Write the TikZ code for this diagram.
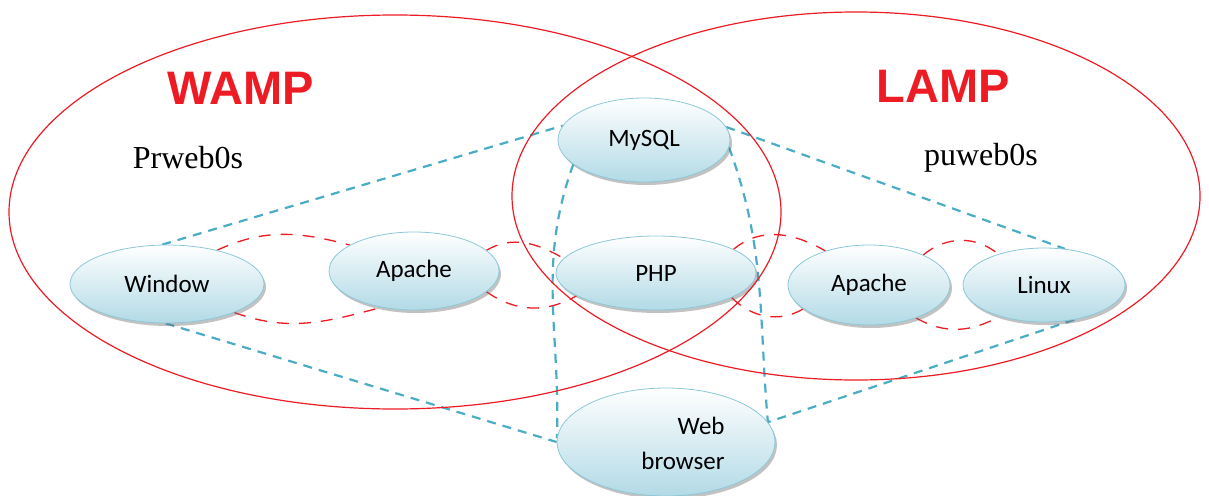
\documentclass[tikz,border=0pt]{standalone}
\usepackage{fontspec}
\newfontfamily\calib{Carlito}
\newfontfamily\arialb{Liberation Sans}
\newfontfamily\tnroman{Liberation Serif}
\usetikzlibrary{shapes.geometric,shadows,backgrounds}
\definecolor{lampred}{RGB}{237,28,36}
\definecolor{linkblue}{RGB}{75,172,198}
\definecolor{nodebot}{RGB}{178,218,230}
\definecolor{nodeedge}{RGB}{140,200,216}
\tikzset{
  comp/.style={ellipse, inner sep=0pt, draw=nodeedge, line width=0.8pt,
    top color=white, bottom color=nodebot,
    drop shadow={shadow xshift=2pt, shadow yshift=-3pt, fill=black!60, opacity=0.4},
    font=\calib\fontsize{25}{29}\selectfont},
  bigset/.style={draw=lampred, line width=1.2pt},
  title/.style={text=lampred, font=\arialb\bfseries\fontsize{47}{52}\selectfont},
  host/.style={font=\tnroman\fontsize{32}{36}\selectfont},
  bluelink/.style={draw=linkblue, line width=2.2pt, dash pattern=on 9pt off 7pt},
  redlink/.style={draw=lampred, line width=1.3pt, dash pattern=on 12pt off 10pt},
}
\begin{document}
\begin{tikzpicture}[x=1pt,y=-1pt]
\useasboundingbox (0,0) rectangle (1209,495);
% component nodes
\node[comp, minimum width=194pt, minimum height=78pt] (win) at (167,284) {Window};
\node[comp, minimum width=170pt, minimum height=78pt] (apL) at (414,271) {Apache};
\node[comp, minimum width=172pt, minimum height=84pt] (sql) at (644,140) {MySQL};
\node[comp, minimum width=200pt, minimum height=74pt] (php) at (656,273) {PHP};
\node[comp, minimum width=162pt, minimum height=80pt] (apR) at (869,285) {Apache};
\node[comp, minimum width=162pt, minimum height=74pt] (lin) at (1044,285) {Linux};
\node[comp, minimum width=218pt, minimum height=108pt] (web) at (666,442) {};
\node[align=right, font=\calib\fontsize{25}{35}\selectfont] (webtxt) at (683,443) {Web\\browser};
% titles
\node[title] (wamp) at (241,88) {WAMP};
\node[title] (lamp) at (943,86) {LAMP};
\node[host] (prw) at (188,158) {Prweb0s};
\node[host] (puw) at (981,158) {puweb0s};
% connectors
\begin{pgfonlayer}{background}
\draw[bluelink] (win.97) -- (sql.170);
\draw[bluelink] (win.268) -- (web.180);
\draw[bluelink] (sql.9) -- (lin.60);
\draw[bluelink] (lin.-49) -- (web.11);
\draw[bluelink] (sql.199) to[out=250,in=88] (web.178);
\draw[bluelink] (sql.-5) to[out=-70,in=95] (web.11);
\draw[redlink] (win.34) to[out=25,in=165] (apL.158);
\draw[redlink] (win.-23) to[out=-20,in=-165] (apL.228);
\draw[redlink] (apL.16) to[out=30,in=150] (php.171);
\draw[redlink] (apL.-16) to[out=-35,in=-150] (php.196);
\draw[redlink] (php.17) to[out=40,in=150] (apR.142);
\draw[redlink] (php.-18) to[out=-45,in=-150] (apR.200);
\draw[redlink] (apR.29) to[out=40,in=140] (lin.146);
\draw[redlink] (apR.-35) to[out=-30,in=-150] (lin.215);
\end{pgfonlayer}
% the two sets
\draw[bigset] (395,212) ellipse [x radius=386pt, y radius=197pt];
\draw[bigset] (856,196) ellipse [x radius=344pt, y radius=184pt];
\end{tikzpicture}
\end{document}
